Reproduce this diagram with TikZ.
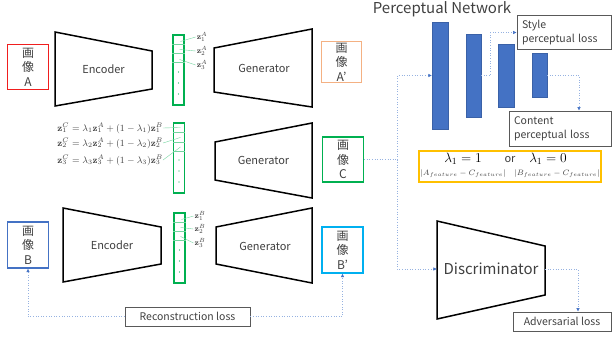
\documentclass[tikz,border=0pt]{standalone}
\usepackage{fix-cm}
\usepackage{amsmath, amssymb}
\usepackage[no-math]{fontspec}
\setmainfont{Noto Sans CJK JP}
\usepackage{xcolor}
\usetikzlibrary{arrows.meta, positioning, calc}

\definecolor{imgred}{RGB}{240,30,30}
\definecolor{imgorange}{RGB}{244,177,131}
\definecolor{imggreen}{RGB}{0,176,80}
\definecolor{imgblue}{RGB}{68,114,196}
\definecolor{imgcyan}{RGB}{0,176,240}
\definecolor{lamgold}{RGB}{255,192,0}
\definecolor{linkblue}{RGB}{150,178,225}
\definecolor{txtgray}{RGB}{64,64,64}

\begin{document}
\begin{tikzpicture}[
  x=1pt, y=-1pt,
  imgbox/.style={rectangle, draw, line width=1.2pt, minimum width=41pt, minimum height=45pt, inner sep=0pt, align=center, font=\fontsize{12}{14.5}\selectfont, text=txtgray},
  net/.style={draw=black, line width=1.5pt, line join=miter},
  netlabel/.style={inner sep=0pt, font=\fontsize{11}{13}\selectfont, text=txtgray},
  latent/.style={rectangle, draw=imggreen, line width=1.1pt, minimum width=11pt, minimum height=70pt, inner sep=0pt},
  cell/.style={imggreen!55, line width=0.4pt},
  zlab/.style={font=\fontsize{8}{9}\selectfont, inner sep=1pt, text=txtgray},
  formula/.style={font=\fontsize{9.5}{11}\selectfont, inner sep=0pt, anchor=east, text=txtgray},
  bar/.style={rectangle, fill=imgblue, draw=imgblue!85!black, line width=0.4pt, inner sep=0pt},
  lossbox/.style={rectangle, draw=black!65, line width=0.8pt, align=left, font=\fontsize{10.5}{14}\selectfont, text=txtgray, inner sep=5pt},
  link/.style={linkblue, dotted, line width=0.6pt, -{Latex[length=3.5pt, width=3.5pt, color=imgblue, fill=imgblue]}}
]
  \useasboundingbox (0,0) rectangle (612,338);

  % row A
  \node[imgbox, draw=imgred] (imgA) at (28,67) {画\\像\\A};
  \draw[net] (55,32) -- (152,51) -- (152,89) -- (55,106) -- cycle;
  \node[netlabel, minimum width=97pt] (encA) at (103.5,69) {Encoder};
  \node[latent] (lA) at (178.5,70) {};
  \draw[net] (214,48) -- (312,29) -- (312,107) -- (214,92) -- cycle;
  \node[netlabel, minimum width=98pt] (genA) at (264,68) {Generator};
  \node[imgbox, draw=imgorange, minimum width=40pt, minimum height=41pt] (imgAp) at (341.5,62) {画\\像\\A'};

  % row C
  \node[formula] (f1) at (163,128) {$\mathbf{z}_1^C = \lambda_1\mathbf{z}_1^A + (1-\lambda_1)\mathbf{z}_1^B$};
  \node[formula] (f2) at (163,143) {$\mathbf{z}_2^C = \lambda_2\mathbf{z}_2^A + (1-\lambda_2)\mathbf{z}_2^B$};
  \node[formula] (f3) at (163,160) {$\mathbf{z}_3^C = \lambda_3\mathbf{z}_3^A + (1-\lambda_3)\mathbf{z}_3^B$};
  \node[latent] (lC) at (179,158) {};
  \draw[net] (215,142) -- (312,123) -- (312,198) -- (215,180) -- cycle;
  \node[netlabel, minimum width=97pt] (genC) at (263.5,160) {Generator};
  \node[imgbox, draw=imggreen] (imgC) at (343,159.5) {画\\像\\C};

  % row B
  \node[imgbox, draw=imgblue, minimum height=46pt] (imgB) at (28,245) {画\\像\\B};
  \draw[net] (63,208) -- (161,227) -- (161,264) -- (63,282) -- cycle;
  \node[netlabel, minimum width=98pt] (encB) at (112,245) {Encoder};
  \node[latent] (lB) at (179.5,248) {};
  \draw[net] (216,227) -- (312,208) -- (312,283) -- (216,264) -- cycle;
  \node[netlabel, minimum width=96pt] (genB) at (265,246) {Generator};
  \node[imgbox, draw=imgcyan, minimum height=46pt] (imgBp) at (342.5,250) {画\\像\\B'};
  \node[lossbox, minimum width=125pt, minimum height=19pt, inner sep=2pt] (recon) at (187.5,316.5) {Reconstruction loss};

  % latent cells
  \draw[cell] ([yshift=-10pt]lA.north west) -- ([yshift=-10pt]lA.north east);
  \draw[cell] ([yshift=-19pt]lA.north west) -- ([yshift=-19pt]lA.north east);
  \draw[cell] ([yshift=-28pt]lA.north west) -- ([yshift=-28pt]lA.north east);
  \draw[cell] ([yshift=-10pt]lC.north west) -- ([yshift=-10pt]lC.north east);
  \draw[cell] ([yshift=-19.5pt]lC.north west) -- ([yshift=-19.5pt]lC.north east);
  \draw[cell] ([yshift=-29pt]lC.north west) -- ([yshift=-29pt]lC.north east);
  \draw[cell] ([yshift=-10pt]lB.north west) -- ([yshift=-10pt]lB.north east);
  \draw[cell] ([yshift=-19pt]lB.north west) -- ([yshift=-19pt]lB.north east);
  \draw[cell] ([yshift=-28pt]lB.north west) -- ([yshift=-28pt]lB.north east);
  \fill[imggreen] ([yshift=-37.5pt]lA.north) circle (0.7pt) ([yshift=-48.5pt]lA.north) circle (0.7pt) ([yshift=-59.5pt]lA.north) circle (0.7pt);
  \fill[imggreen] ([yshift=-37.5pt]lC.north) circle (0.7pt) ([yshift=-48.5pt]lC.north) circle (0.7pt) ([yshift=-59.5pt]lC.north) circle (0.7pt);
  \fill[imggreen] ([yshift=-37.5pt]lB.north) circle (0.7pt) ([yshift=-48.5pt]lB.north) circle (0.7pt) ([yshift=-59.5pt]lB.north) circle (0.7pt);

  % latent labels
  \node[zlab] (zA1) at (202,37) {$\mathbf{z}_1^A$};
  \node[zlab] (zA2) at (202,51) {$\mathbf{z}_2^A$};
  \node[zlab] (zA3) at (202,65) {$\mathbf{z}_3^A$};
  \node[zlab] (zB1) at (200,216) {$\mathbf{z}_1^B$};
  \node[zlab] (zB2) at (200,229) {$\mathbf{z}_2^B$};
  \node[zlab] (zB3) at (200,243) {$\mathbf{z}_3^B$};
  \draw[cell] ([xshift=2pt, yshift=-7pt]lA.north) -- (zA1.west);
  \draw[cell] ([xshift=1pt, yshift=-15pt]lA.north) -- (zA2.west);
  \draw[cell] ([xshift=1pt, yshift=-25pt]lA.north) -- (zA3.west);
  \draw[cell] ([xshift=2pt, yshift=-7pt]lB.north) -- (zB1.west);
  \draw[cell] ([xshift=1pt, yshift=-15pt]lB.north) -- (zB2.west);
  \draw[cell] ([xshift=1pt, yshift=-24pt]lB.north) -- (zB3.west);
  \draw[cell] (f1.east) -- ([xshift=1.5pt, yshift=-5pt]lC.north);
  \draw[cell] (f2.east) -- ([xshift=1.5pt, yshift=-15pt]lC.north);
  \draw[cell] (f3.east) -- ([xshift=1.5pt, yshift=-24.5pt]lC.north);

  % perceptual network
  \node[font=\fontsize{15}{18}\selectfont, text=txtgray, inner sep=0pt] (ptitle) at (442,9) {Perceptual Network};
  \node[bar, minimum width=16pt, minimum height=107pt] (bar1) at (440,75.5) {};
  \node[bar, minimum width=15pt, minimum height=83pt] (bar2) at (473.5,75.5) {};
  \node[bar, minimum width=16pt, minimum height=63pt] (bar3) at (506,75.5) {};
  \node[bar, minimum width=15pt, minimum height=44pt] (bar4) at (539.5,75) {};
  \node[lossbox, minimum width=94pt, minimum height=33pt, text width=84pt] (style) at (564,32.5) {Style\\perceptual loss};
  \node[lossbox, minimum width=102pt, minimum height=35pt, text width=92pt] (content) at (560,128.5) {Content\\perceptual loss};

  % lambda
  \node[rectangle, draw=lamgold, line width=1.5pt, minimum width=182pt, minimum height=31pt] (lam) at (510,166.5) {};
  \node[font=\fontsize{13.5}{15}\selectfont, inner sep=0pt] (lam1) at (463,159) {$\lambda_1 = 1$};
  \node[font=\fontsize{11}{13}\selectfont, text=txtgray, inner sep=0pt] (lamor) at (510,160) {or};
  \node[font=\fontsize{13.5}{15}\selectfont, inner sep=0pt] (lam0) at (548,159) {$\lambda_1 = 0$};
  \node[font=\fontsize{7.8}{9}\selectfont, inner sep=0pt, text=txtgray] (fa) at (463,173.5) {$|A_{feature}-C_{feature}|$};
  \node[font=\fontsize{7.8}{9}\selectfont, inner sep=0pt, text=txtgray] (fb) at (557,173.5) {$|B_{feature}-C_{feature}|$};

  % discriminator
  \draw[net] (437,221) -- (545,246) -- (545,295) -- (437,319) -- cycle;
  \node[netlabel, minimum width=108pt, font=\fontsize{15}{18}\selectfont] (disc) at (491,269) {Discriminator};
  \node[lossbox, minimum width=98pt, minimum height=19pt, inner sep=2pt] (adv) at (562,321.5) {Adversarial loss};

  % links
  \coordinate (fork) at ($(imgC.east)+(33,0)$);
  \draw[linkblue, dotted, line width=0.6pt] (imgC.east) -- (fork);
  \draw[link] (fork) |- (bar1.west);
  \draw[link] (fork) |- (disc.west);
  \draw[link] (bar2.east) -- ++(9,0) |- (style.west);
  \draw[link] (bar4.east) -| ([xshift=19pt]content.north);
  \draw[link] (disc.east) -| ([xshift=16pt]adv.north);
  \draw[link] (recon.west) -| (imgB.south);
  \draw[link] (recon.east) -| (imgBp.south);
\end{tikzpicture}
\end{document}
